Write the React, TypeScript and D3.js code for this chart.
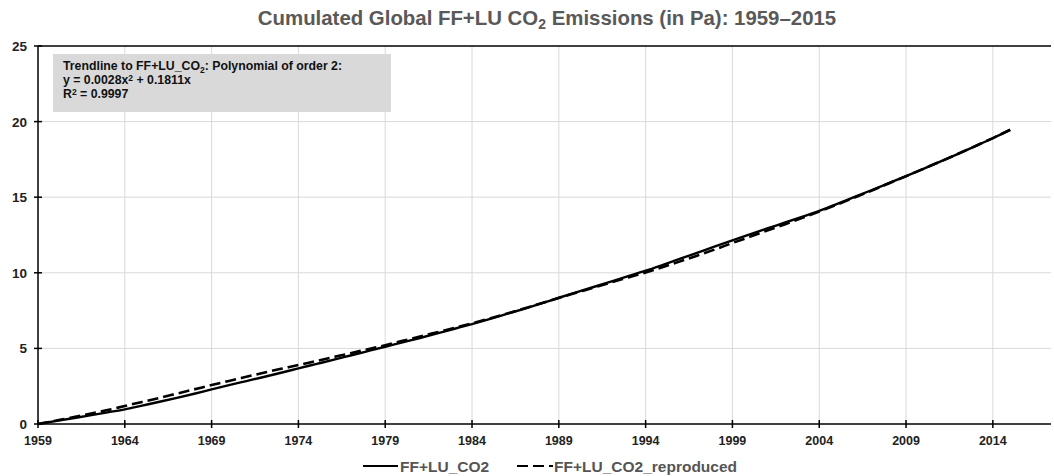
import React from "react";
import * as d3 from "d3";

const years: number[] = d3.range(1959, 2016);
const ffluCO2: number[] = [
  0, 0.19, 0.38, 0.57, 0.77, 0.97, 1.22, 1.47, 1.73, 2.0,
  2.29, 2.57, 2.84, 3.11, 3.39, 3.68, 3.96, 4.24, 4.53, 4.82,
  5.11, 5.4, 5.69, 5.99, 6.3, 6.61, 6.94, 7.28, 7.62, 7.98,
  8.35, 8.71, 9.06, 9.42, 9.78, 10.14, 10.53, 10.93, 11.34, 11.75,
  12.15, 12.54, 12.93, 13.31, 13.7, 14.1, 14.54, 15.0, 15.46, 15.93,
  16.4, 16.88, 17.37, 17.87, 18.38, 18.9, 19.45,
];
const ffluCO2Reproduced: number[] = [
  0, 0.22, 0.44, 0.67, 0.92, 1.19, 1.46, 1.73, 2.01, 2.29,
  2.58, 2.85, 3.12, 3.39, 3.65, 3.9, 4.16, 4.42, 4.68, 4.95,
  5.21, 5.5, 5.78, 6.07, 6.36, 6.65, 6.97, 7.3, 7.64, 7.99,
  8.34, 8.68, 9.02, 9.36, 9.69, 10.02, 10.38, 10.76, 11.15, 11.55,
  11.97, 12.38, 12.79, 13.2, 13.62, 14.05, 14.5, 14.96, 15.43, 15.91,
  16.39, 16.88, 17.37, 17.87, 18.39, 18.91, 19.46,
];
const xTicks: number[] = [1959, 1964, 1969, 1974, 1979, 1984, 1989, 1994, 1999, 2004, 2009, 2014];
const yTicks: number[] = [0, 5, 10, 15, 20, 25];
const seriesNames: string[] = ["FF+LU_CO2", "FF+LU_CO2_reproduced"];

const W = 1054;
const H = 476;
const FONT = "'Liberation Sans', Arial, sans-serif";

export default function App() {
  const x = d3.scaleLinear().domain([1959, 2017.35]).range([38, 1051]);
  const y = d3.scaleLinear().domain([0, 25]).range([424, 46]);
  const line = d3
    .line<number>()
    .x((_, i) => x(years[i]))
    .y((d) => y(d))
    .curve(d3.curveMonotoneX);

  const [x0, x1] = x.range();
  const [y0, y1] = y.range();

  return (
    <svg
      width={W}
      height={H}
      style={{ position: "absolute", left: 0, top: 0, background: "#fff" }}
      fontFamily={FONT}
    >
      <rect x={0} y={0} width={W} height={H} fill="#fff" />
      {/* title */}
      <text x={547} y={25} textAnchor="middle" fontSize={20.4} fontWeight="bold" fill="#595959">
        Cumulated Global FF+LU CO
        <tspan fontSize={14} dy={4}>2</tspan>
        <tspan dy={-4}> Emissions (in Pa): 1959–2015</tspan>
      </text>

      {/* gridlines */}
      {xTicks.slice(1).map((t) => (
        <line key={"gx" + t} x1={x(t)} x2={x(t)} y1={y0} y2={y1} stroke="#d9d9d9" strokeWidth={1} />
      ))}
      {yTicks.slice(1, -1).map((t) => (
        <line key={"gy" + t} x1={x0} x2={x1} y1={y(t)} y2={y(t)} stroke="#d9d9d9" strokeWidth={1} />
      ))}

      {/* annotation box */}
      <rect x={53} y={54} width={338} height={58} fill="#d9d9d9" />
      <text x={63} y={70} fontSize={12.3} fontWeight="bold" fill="#111">
        Trendline to FF+LU_CO<tspan fontSize={8.5} dy={2.5}>2</tspan>
        <tspan dy={-2.5}>: Polynomial of order 2:</tspan>
      </text>
      <text x={63} y={84} fontSize={12.3} fontWeight="bold" fill="#111">
        y = 0.0028x<tspan fontSize={8.5} dy={-3}>2</tspan>
        <tspan dy={3}> + 0.1811x</tspan>
      </text>
      <text x={63} y={97.5} fontSize={12.3} fontWeight="bold" fill="#111">
        R<tspan fontSize={8.5} dy={-3}>2</tspan>
        <tspan dy={3}> = 0.9997</tspan>
      </text>

      {/* axes */}
      <line x1={x0} x2={x1} y1={y1} y2={y1} stroke="#000" strokeWidth={1.5} />
      <line x1={x0} x2={x0} y1={y0} y2={y1} stroke="#000" strokeWidth={1.5} />
      <line x1={x0} x2={x1} y1={y0} y2={y0} stroke="#000" strokeWidth={1.5} />
      {yTicks.map((t) => (
        <g key={"yt" + t}>
          <line x1={x0 - 4} x2={x0 + 4} y1={y(t)} y2={y(t)} stroke="#000" strokeWidth={1.5} />
          <text x={27} y={y(t) + 5} textAnchor="end" fontSize={13.5} fontWeight="bold" fill="#222">
            {t}
          </text>
        </g>
      ))}
      {xTicks.map((t) => (
        <g key={"xt" + t}>
          <line x1={x(t)} x2={x(t)} y1={y0 - 4} y2={y0 + 4} stroke="#000" strokeWidth={1.5} />
          <text x={x(t)} y={445} textAnchor="middle" fontSize={12.5} fontWeight="bold" fill="#222">
            {t}
          </text>
        </g>
      ))}

      {/* series */}
      <path d={line(ffluCO2Reproduced) || ""} fill="none" stroke="#000" strokeWidth={2.6} strokeDasharray="11,5" />
      <path d={line(ffluCO2) || ""} fill="none" stroke="#000" strokeWidth={2.4} />

      {/* legend */}
      <line x1={363} x2={398} y1={466} y2={466} stroke="#000" strokeWidth={2} />
      <text x={400} y={472} fontSize={15.5} fontWeight="bold" fill="#555">{seriesNames[0]}</text>
      <line x1={517} x2={553} y1={466} y2={466} stroke="#000" strokeWidth={2} strokeDasharray="11,5" />
      <text x={554} y={472} fontSize={15.5} fontWeight="bold" fill="#555">{seriesNames[1]}</text>
    </svg>
  );
}
